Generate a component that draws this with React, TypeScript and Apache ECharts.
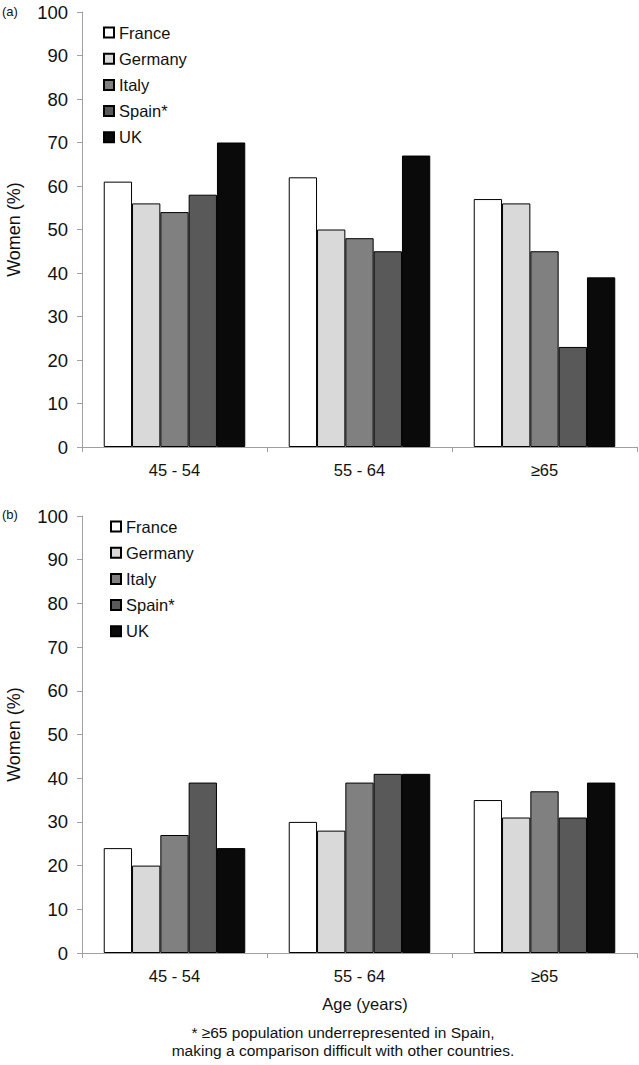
import React, { useEffect, useRef } from "react";
import * as echarts from "echarts";

// ---- data ----
const ageGroups = ["45 - 54", "55 - 64", "≥65"];
const countries = ["France", "Germany", "Italy", "Spain*", "UK"];
const countryColors = ["#ffffff", "#d9d9d9", "#808080", "#595959", "#0a0a0a"];

// Panel (a): women (%) per age group
const aFrance = [61, 62, 57];
const aGermany = [56, 50, 56];
const aItaly = [54, 48, 45];
const aSpain = [58, 45, 23];
const aUK = [70, 67, 39];

// Panel (b): women (%) per age group
const bFrance = [24, 30, 35];
const bGermany = [20, 28, 31];
const bItaly = [27, 39, 37];
const bSpain = [39, 41, 31];
const bUK = [24, 41, 39];

const yMin = 0;
const yMax = 100;
const yInterval = 10;

const panelLabels = ["(a)", "(b)"];
const yTitle = "Women (%)";
const xTitle = "Age (years)";
const footnote = [
  "* ≥65 population underrepresented in Spain,",
  "making a comparison difficult with other countries.",
];

const FONT = "Liberation Sans, Arial, Helvetica, sans-serif";
const AXIS_GRAY = "#a0a0a0";

export default function App() {
  const ref = useRef<HTMLDivElement>(null);

  useEffect(() => {
    if (!ref.current) return;
    const chart = echarts.init(ref.current, undefined, { renderer: "svg" });

    const panelData = [
      [aFrance, aGermany, aItaly, aSpain, aUK],
      [bFrance, bGermany, bItaly, bSpain, bUK],
    ];

    const grids = [
      { left: 82, top: 12, width: 555, height: 435 },
      { left: 82, top: 516, width: 555, height: 437 },
    ];

    const xAxes = grids.map((_, i) => ({
      type: "category" as const,
      gridIndex: i,
      data: ageGroups,
      axisLine: { lineStyle: { color: AXIS_GRAY, width: 1 } },
      axisTick: { show: true, length: 5, lineStyle: { color: AXIS_GRAY } },
      axisLabel: {
        color: "#111",
        fontSize: 16.5,
        fontFamily: FONT,
        margin: 14,
      },
    }));

    const yAxes = grids.map((_, i) => ({
      type: "value" as const,
      gridIndex: i,
      min: yMin,
      max: yMax,
      interval: yInterval,
      axisLine: { show: true, lineStyle: { color: AXIS_GRAY, width: 1 } },
      axisTick: { show: true, length: 5, lineStyle: { color: AXIS_GRAY } },
      splitLine: { show: false },
      axisLabel: {
        color: "#111",
        fontSize: 18.5,
        fontFamily: FONT,
        margin: 14,
      },
    }));

    const series: any[] = [];
    panelData.forEach((rows, p) => {
      rows.forEach((vals, c) => {
        series.push({
          type: "bar",
          name: countries[c],
          xAxisIndex: p,
          yAxisIndex: p,
          data: vals,
          barGap: "0%",
          barCategoryGap: "23.5%",
          itemStyle: {
            color: countryColors[c],
            borderColor: "#000",
            borderWidth: 1,
          },
          emphasis: { disabled: true },
        });
      });
    });

    const legends = [
      { left: 98, top: 19 },
      { left: 105, top: 513 },
    ].map((pos) => ({
      ...pos,
      orient: "vertical" as const,
      data: countries,
      icon: "rect",
      itemWidth: 10,
      itemHeight: 10,
      itemGap: 9.2,
      selectedMode: false,
      textStyle: {
        fontSize: 16.5,
        lineHeight: 16,
        color: "#111",
        fontFamily: FONT,
      },
    }));

    const graphic: any[] = [
      {
        type: "text",
        left: 2,
        top: 5,
        style: { text: panelLabels[0], fontSize: 13, fontFamily: FONT, fill: "#111" },
      },
      {
        type: "text",
        left: 2,
        top: 508,
        style: { text: panelLabels[1], fontSize: 13, fontFamily: FONT, fill: "#111" },
      },
      {
        type: "text",
        x: 14,
        y: 229.5,
        rotation: Math.PI / 2,
        style: {
          text: yTitle,
          fontSize: 18,
          fontFamily: FONT,
          fill: "#111",
          align: "center",
          verticalAlign: "middle",
        },
      },
      {
        type: "text",
        x: 14,
        y: 734.5,
        rotation: Math.PI / 2,
        style: {
          text: yTitle,
          fontSize: 18,
          fontFamily: FONT,
          fill: "#111",
          align: "center",
          verticalAlign: "middle",
        },
      },
      {
        type: "text",
        x: 365,
        y: 1004,
        style: {
          text: xTitle,
          fontSize: 16.5,
          fontFamily: FONT,
          fill: "#111",
          align: "center",
          verticalAlign: "middle",
        },
      },
      {
        type: "text",
        x: 343,
        y: 1032,
        style: {
          text: footnote[0],
          fontSize: 15.5,
          fontFamily: FONT,
          fill: "#111",
          align: "center",
          verticalAlign: "middle",
        },
      },
      {
        type: "text",
        x: 343,
        y: 1050,
        style: {
          text: footnote[1],
          fontSize: 15.5,
          fontFamily: FONT,
          fill: "#111",
          align: "center",
          verticalAlign: "middle",
        },
      },
    ];

    chart.setOption({
      animation: false,
      backgroundColor: "#ffffff",
      grid: grids,
      xAxis: xAxes,
      yAxis: yAxes,
      legend: legends,
      series,
      graphic,
    });

    return () => {
      chart.dispose();
    };
  }, []);

  return (
    <div
      ref={ref}
      style={{ position: "absolute", left: 0, top: 0, width: 639, height: 1065 }}
    />
  );
}
